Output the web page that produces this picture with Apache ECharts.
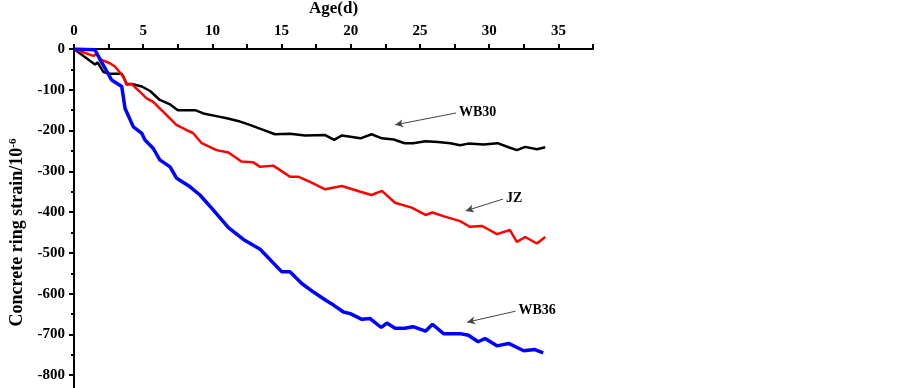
<!DOCTYPE html>
<html>
<head>
<meta charset="utf-8">
<script src="https://cdn.jsdelivr.net/npm/echarts@6/dist/echarts.min.js"></script>
<style>
  html, body { margin: 0; padding: 0; background: #fff; }
  #main { width: 903px; height: 388px; }
</style>
</head>
<body>
<div id="main"></div>
<script>
// 数据 (Age in d, strain in 10^-6)
var wb30 = [[0,0],[1.52,-38],[1.7,-33],[2.12,-56],[2.5,-61],[3.45,-61],[3.57,-68],[3.8,-86],[4.17,-86],[4.9,-92],[5.5,-103],
  [6.2,-125],[6.9,-135],[7.5,-150],[8.75,-150],[9.35,-158],[10.2,-164],[11.04,-170],[12,-178],[12.6,-185],[13.57,-197],
  [14.53,-209],[15.6,-208],[16.7,-212],[18.15,-211],[18.8,-223],[19.36,-212],[20.7,-219],[21.5,-209],[22.25,-219],
  [23.1,-222],[23.9,-231],[24.5,-231],[25.4,-226],[26.3,-228],[27.2,-231],[27.9,-236],[28.5,-232],[29.6,-234],
  [30.6,-231],[31.4,-241],[32.0,-248],[32.6,-240],[33.45,-246],[34.05,-241]];
var jz = [[0,0],[1.4,-17],[1.6,-12],[2.0,-27],[2.6,-35],[2.96,-43],[3.57,-68],[3.8,-88],[4.17,-86],[4.77,-105],[5.25,-121],
  [5.7,-129],[6.46,-154],[7.4,-186],[8.15,-199],[8.6,-206],[9.23,-231],[10.3,-248],[11.16,-254],[12.1,-276],[12.96,-278],
  [13.45,-289],[14.4,-286],[15.6,-313],[16.2,-313],[17.06,-326],[18.15,-344],[19.36,-336],[20.7,-350],[21.5,-358],
  [22.25,-348],[23.2,-377],[24.4,-389],[25.4,-407],[25.9,-401],[26.8,-411],[27.9,-422],[28.6,-436],[29.5,-434],
  [30.56,-454],[31.5,-444],[32.0,-473],[32.6,-461],[33.45,-477],[34.05,-461]];
var wb36 = [[0,0],[1.52,-2],[1.9,-27],[2.24,-47],[2.72,-76],[3.45,-92],[3.69,-146],[4.29,-191],[4.9,-207],[5.13,-223],
  [5.73,-244],[6.2,-272],[6.94,-289],[7.42,-317],[8.39,-338],[9.1,-358],[10.07,-395],[11.16,-438],[12.24,-467],
  [13.45,-491],[15.0,-546],[15.6,-546],[16.46,-575],[17.3,-596],[18.27,-618],[18.75,-628],[19.47,-645],[19.96,-649],
  [20.8,-663],[21.4,-661],[22.2,-683],[22.6,-672],[23.2,-685],[23.9,-685],[24.5,-681],[25.4,-692],[25.9,-675],
  [26.7,-698],[27.9,-698],[28.5,-702],[29.2,-718],[29.7,-710],[30.56,-728],[31.4,-722],[32.5,-740],[33.3,-737],[33.9,-745]];

// 标注
var noteNames = ['WB30', 'JZ', 'WB36'];
var noteFrom = [[27.6, -157], [31.0, -368], [31.9, -643]];
var noteTo = [[23.2, -186], [28.3, -397], [28.4, -670]];

var seriesNames = ['WB30', 'JZ', 'WB36'];
var seriesData = [wb30, jz, wb36];
var seriesColors = ['#000000', '#ff0000', '#0000ff'];
var seriesWidths = [2.5, 2.5, 3.5];

var chart = echarts.init(document.getElementById('main'));
var font = '"Liberation Serif", "Times New Roman", serif';

var series = [];
for (var i = 0; i < seriesData.length; i++) {
  series.push({
    name: seriesNames[i],
    type: 'line',
    data: seriesData[i],
    showSymbol: false,
    symbol: 'none',
    lineStyle: { color: seriesColors[i], width: seriesWidths[i] },
    markLine: {
      silent: true,
      symbol: ['none', 'arrow'],
      symbolSize: [6, 8],
      lineStyle: { color: '#444', width: 1, type: 'solid' },
      label: {
        show: true,
        position: 'start',
        formatter: noteNames[i],
        color: '#000',
        fontFamily: font,
        fontWeight: 'bold',
        fontSize: 14,
        distance: 3
      },
      data: [[{ coord: noteFrom[i] }, { coord: noteTo[i] }]]
    }
  });
}

var option = {
  animation: false,
  grid: { left: 74, right: 310, top: 49, bottom: -28, outerBoundsMode: 'none', containLabel: false },
  xAxis: {
    type: 'value',
    position: 'top',
    min: 0,
    max: 37.5,
    interval: 2.5,
    name: 'Age(d)',
    nameLocation: 'middle',
    nameGap: 32,
    nameTextStyle: { fontFamily: font, fontWeight: 'bold', fontSize: 17, color: '#000' },
    axisLine: { lineStyle: { color: '#000', width: 2 } },
    axisTick: { length: 5, lineStyle: { color: '#000', width: 2 } },
    axisLabel: {
      margin: 10,
      color: '#000',
      fontFamily: font,
      fontWeight: 'bold',
      fontSize: 15,
      formatter: function(v) { return v % 5 === 0 ? String(v) : ''; }
    },
    splitLine: { show: false }
  },
  yAxis: {
    type: 'value',
    min: -900,
    max: 0,
    interval: 100,
    name: 'Concrete ring strain/10{sup|-6}',
    nameLocation: 'middle',
    nameGap: 46,
    nameTextStyle: {
      fontFamily: font, fontWeight: 'bold', fontSize: 18, color: '#000',
      rich: { sup: { fontFamily: font, fontWeight: 'bold', fontSize: 11, color: '#000', verticalAlign: 'top', padding: [0, 0, 9, 0] } }
    },
    axisLine: { onZero: false, lineStyle: { color: '#000', width: 2 } },
    axisTick: { length: 5, lineStyle: { color: '#000', width: 2 } },
    minorTick: { show: true, splitNumber: 2, length: 3, lineStyle: { color: '#000', width: 2 } },
    axisLabel: { margin: 9, color: '#000', fontFamily: font, fontWeight: 'bold', fontSize: 15 },
    splitLine: { show: false }
  },
  series: series
};

chart.setOption(option);
</script>
</body>
</html>
